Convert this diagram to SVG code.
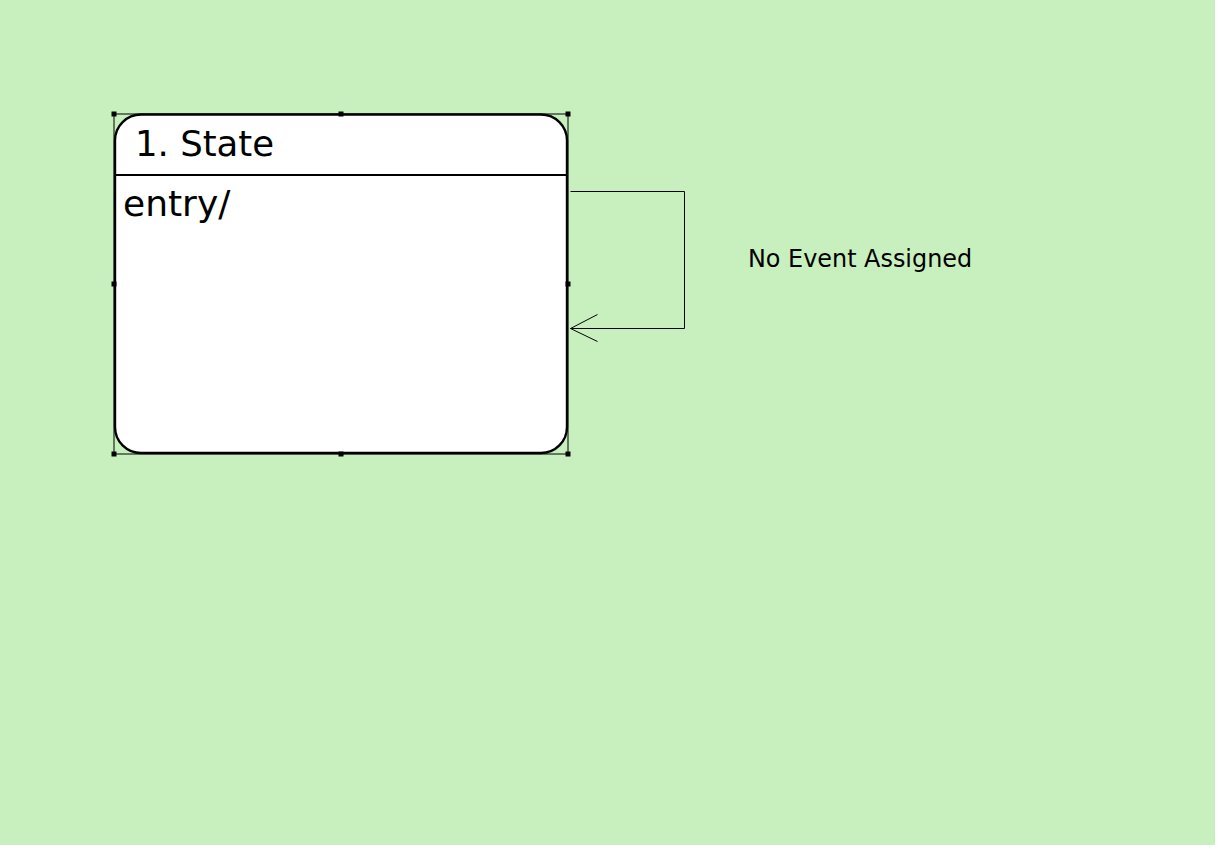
<svg xmlns="http://www.w3.org/2000/svg" width="1231" height="861" viewBox="0 0 1231 861">
  <style>
    .txt { font-family: "DejaVu Sans", "Liberation Sans", sans-serif; fill: #000; }
    .frame { fill: none; stroke: #000; stroke-width: 1; }
    .handle { fill: #000; }
    .conn { fill: none; stroke: #000; stroke-width: 1; }
  </style>
  <rect x="0" y="0" width="1231" height="861" fill="#ffffff"/>
  <rect x="0" y="0" width="1215" height="845" fill="#c8f0be"/>

  <g id="state1">
    <rect x="115" y="114.5" width="452" height="338.5" rx="26" ry="26" fill="#ffffff" stroke="#000" stroke-width="2.4"/>
    <line x1="115" y1="175" x2="567" y2="175" stroke="#000" stroke-width="2"/>
    <text class="txt" x="135" y="156" font-size="35.5">1. State</text>
    <text class="txt" x="123" y="216" font-size="36">entry/</text>
    <rect class="frame" x="114" y="114" width="454" height="340"/>
    <rect class="handle" x="111.5" y="111.5" width="5" height="5"/>
    <rect class="handle" x="338.5" y="111.5" width="5" height="5"/>
    <rect class="handle" x="565.5" y="111.5" width="5" height="5"/>
    <rect class="handle" x="111.5" y="281.5" width="5" height="5"/>
    <rect class="handle" x="565.5" y="281.5" width="5" height="5"/>
    <rect class="handle" x="111.5" y="451.5" width="5" height="5"/>
    <rect class="handle" x="338.5" y="451.5" width="5" height="5"/>
    <rect class="handle" x="565.5" y="451.5" width="5" height="5"/>
  </g>

  <g id="connectors">
    <polyline class="conn" points="570.5,191.5 684.5,191.5 684.5,328.5 570.5,328.5"/>
    <polyline class="conn" points="597.5,314.5 570.5,328.5 597.5,341.5"/>
  </g>

  <g id="label">
    <text class="txt" x="748" y="267" font-size="23.9">No Event Assigned</text>
  </g>
</svg>
